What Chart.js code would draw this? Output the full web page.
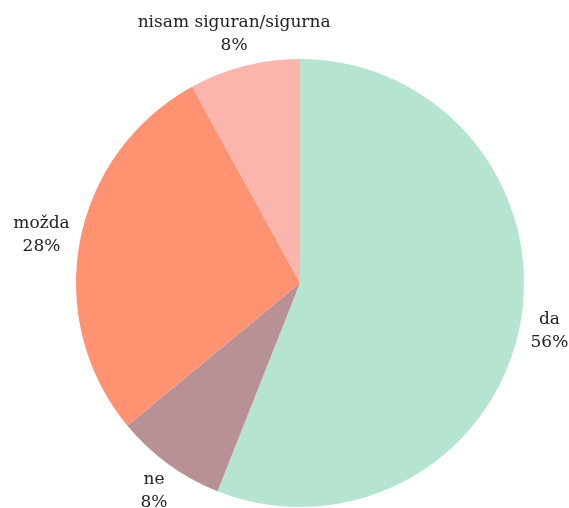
<!DOCTYPE html>
<html lang="hr">
<head>
    <meta charset="UTF-8">
    <title>Anketa</title>
    <script src="https://cdn.jsdelivr.net/npm/chart.js"></script>
    <style>
        html, body { margin: 0; padding: 0; background: #fff; }
        #chart-container { width: 569px; height: 508px; }
    </style>
</head>
<body>
    <div id="chart-container">
        <canvas id="pieChart"></canvas>
    </div>

    <script>
        const categories = ['da', 'ne', 'možda', 'nisam siguran/sigurna'];
        const percents = [56, 8, 28, 8];
        const colors = ['#b5e5d0', '#b79196', '#fe9271', '#fcb5ad'];

        const labelFont = '17px "DejaVu Serif", serif';
        const lineGap = 23;

        // draws "name" and "xx%" outside each slice, along the slice's middle angle
        const outsideLabels = {
            id: 'outsideLabels',
            afterDatasetsDraw(chart) {
                const ctx = chart.ctx;
                const meta = chart.getDatasetMeta(0);
                ctx.save();
                ctx.font = labelFont;
                ctx.fillStyle = '#222';
                ctx.textAlign = 'center';
                ctx.textBaseline = 'middle';
                meta.data.forEach((arc, i) => {
                    const mid = (arc.startAngle + arc.endAngle) / 2;
                    const cos = Math.cos(mid), sin = Math.sin(mid);
                    const w = Math.max(ctx.measureText(categories[i]).width,
                                       ctx.measureText(percents[i] + '%').width);
                    const dist = arc.outerRadius + 11;
                    const x = arc.x + cos * dist + cos * Math.min(w / 2, 30);
                    const y = arc.y + sin * dist + sin * 22;
                    ctx.fillText(categories[i], x, y - lineGap / 2);
                    ctx.fillText(percents[i] + '%', x, y + lineGap / 2);
                });
                ctx.restore();
            }
        };

        const ctx = document.getElementById('pieChart').getContext('2d');
        new Chart(ctx, {
            type: 'pie',
            data: {
                labels: categories,
                datasets: [{
                    data: percents,
                    backgroundColor: colors,
                    borderWidth: 0
                }]
            },
            options: {
                responsive: true,
                maintainAspectRatio: false,
                animation: false,
                layout: {
                    padding: { top: 59, bottom: 1, left: 76, right: 45 }
                },
                plugins: {
                    legend: { display: false },
                    tooltip: { enabled: false }
                }
            },
            plugins: [outsideLabels]
        });
    </script>
</body>
</html>
